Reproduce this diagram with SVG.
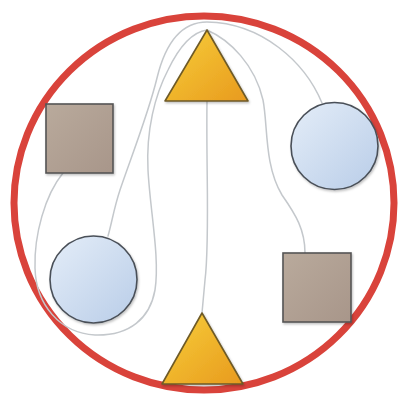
<svg xmlns="http://www.w3.org/2000/svg" width="398" height="396" viewBox="0 0 398 396">
<defs>
<linearGradient id="gTri" x1="0" y1="0" x2="1" y2="1"><stop offset="0" stop-color="#f7cf3a"/><stop offset="1" stop-color="#e89a1e"/></linearGradient>
<linearGradient id="gSq" x1="0" y1="0" x2="1" y2="1"><stop offset="0" stop-color="#b9aa9c"/><stop offset="1" stop-color="#a8968a"/></linearGradient>
<linearGradient id="gCi" x1="0" y1="0" x2="1" y2="1"><stop offset="0" stop-color="#e4edf8"/><stop offset="1" stop-color="#b9cde8"/></linearGradient>
<filter id="sh" x="-20%" y="-20%" width="140%" height="140%"><feDropShadow dx="1" dy="1.5" stdDeviation="1.2" flood-color="#000" flood-opacity="0.25"/></filter>
</defs>
<style>
.conn{fill:none;stroke:#c4c8cc;stroke-width:1.5;stroke-linecap:round}
.tri{fill:url(#gTri);stroke:#6e5a28;stroke-width:1.6;stroke-linejoin:round;filter:url(#sh)}
.sq{fill:url(#gSq);stroke:#555;stroke-width:1.6;filter:url(#sh)}
.ci{fill:url(#gCi);stroke:#4a5058;stroke-width:1.6;filter:url(#sh)}
</style>
<rect width="398" height="396" fill="#fff"/>
<g id="boundary"><ellipse cx="204" cy="203" rx="190" ry="187" fill="none" stroke="#d9433b" stroke-width="7"/></g>
<g id="connectors">
<path class="conn" d="M322,103 C305,62 262,23 207,22 C180,22 165,45 157,78 C148,115 130,160 120,190 C114,208 112,222 108,236"/>
<path class="conn" d="M63,173 C45,195 34,235 35,268 C36,305 60,333 95,335 C130,336 150,318 155,290 C160,258 150,210 148,170 C146,130 155,95 168,70 C180,45 192,32 207,30"/>
<path class="conn" d="M207,30 C230,40 255,65 263,100 C268,125 264,165 282,195 C296,215 305,230 305,253"/>
<path class="conn" d="M207,101 C206,170 210,240 205,280 L202,313"/>
</g>
<g id="square-top-left"><rect class="sq" x="46" y="104" width="67" height="69"/></g>
<g id="circle-right"><circle class="ci" cx="334.5" cy="146" r="43.5"/></g>
<g id="circle-left"><circle class="ci" cx="93.5" cy="279.5" r="43.5"/></g>
<g id="square-bottom-right"><rect class="sq" x="283" y="253" width="68" height="69"/></g>
<g id="triangle-top"><polygon class="tri" points="207,30 248,101 165,101"/></g>
<g id="triangle-bottom"><polygon class="tri" points="202,313 243,384 162,384"/></g>
</svg>
